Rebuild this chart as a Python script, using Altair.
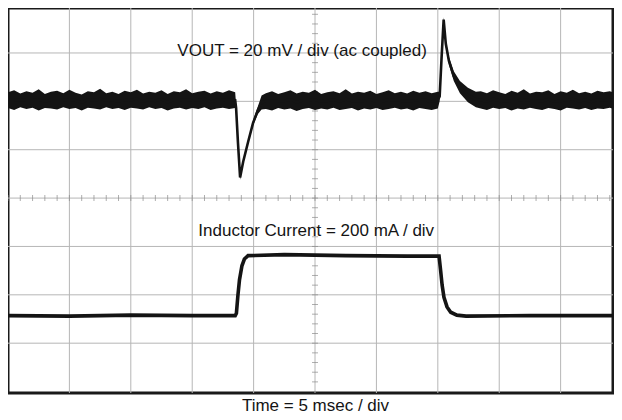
import altair as alt
import pandas as pd

# ---- VOUT trace (divisions): time, upper / lower envelope of the noisy trace
seg_a_t = [round(0.1 * k, 2) for k in range(0, 38)]
seg_a_hi = [2.19, 2.23, 2.16, 2.21, 2.18, 2.25, 2.15, 2.20, 2.22, 2.17,
            2.24, 2.18, 2.14, 2.21, 2.19, 2.26, 2.17, 2.20, 2.15, 2.22,
            2.19, 2.24, 2.16, 2.20, 2.18, 2.23, 2.15, 2.21, 2.19, 2.25,
            2.17, 2.20, 2.22, 2.16, 2.21, 2.18, 2.23, 2.19]
seg_a_lo = [1.86, 1.82, 1.88, 1.84, 1.87, 1.81, 1.86, 1.85, 1.83, 1.88,
            1.84, 1.86, 1.81, 1.87, 1.85, 1.83, 1.88, 1.84, 1.86, 1.82,
            1.87, 1.85, 1.83, 1.88, 1.84, 1.86, 1.81, 1.85, 1.87, 1.83,
            1.86, 1.84, 1.88, 1.82, 1.85, 1.87, 1.84, 1.86]
# undershoot at load step
dip_t = [3.715, 3.745, 3.78, 3.83, 3.91, 3.99, 4.07, 4.13]
dip_hi = [1.92, 1.20, 0.47, 0.79, 1.20, 1.60, 1.90, 2.12]
dip_lo = [1.80, 1.10, 0.38, 0.71, 1.12, 1.50, 1.74, 1.83]
seg_b_t = [round(4.2 + 0.1 * k, 2) for k in range(0, 29)]
seg_b_hi = [2.17, 2.21, 2.15, 2.19, 2.23, 2.16, 2.20, 2.18, 2.24, 2.15,
            2.19, 2.21, 2.17, 2.25, 2.16, 2.20, 2.18, 2.22, 2.15, 2.19,
            2.23, 2.17, 2.20, 2.16, 2.22, 2.18, 2.21, 2.17, 2.20]
seg_b_lo = [1.84, 1.81, 1.86, 1.83, 1.85, 1.80, 1.84, 1.86, 1.82, 1.85,
            1.83, 1.87, 1.82, 1.84, 1.86, 1.81, 1.85, 1.83, 1.86, 1.82,
            1.84, 1.87, 1.83, 1.85, 1.81, 1.86, 1.84, 1.82, 1.85]
# overshoot at load release
peak_t = [7.03, 7.06, 7.095, 7.13, 7.18, 7.26, 7.36, 7.49, 7.62]
peak_hi = [2.20, 2.95, 3.74, 3.26, 2.92, 2.62, 2.42, 2.28, 2.20]
peak_lo = [2.00, 2.80, 3.64, 3.12, 2.76, 2.42, 2.17, 1.98, 1.88]
seg_c_t = [round(7.7 + 0.1 * k, 2) for k in range(0, 24)]
seg_c_hi = [2.21, 2.17, 2.23, 2.19, 2.15, 2.22, 2.18, 2.25, 2.16, 2.20,
            2.19, 2.23, 2.15, 2.21, 2.18, 2.24, 2.17, 2.20, 2.16, 2.22,
            2.19, 2.21, 2.17, 2.20]
seg_c_lo = [1.85, 1.82, 1.87, 1.84, 1.86, 1.81, 1.85, 1.83, 1.87, 1.84,
            1.82, 1.86, 1.84, 1.81, 1.87, 1.85, 1.83, 1.86, 1.82, 1.85,
            1.84, 1.87, 1.83, 1.85]

vout_t = seg_a_t + dip_t + seg_b_t + peak_t + seg_c_t
vout_hi = seg_a_hi + dip_hi + seg_b_hi + peak_hi + seg_c_hi
vout_lo = seg_a_lo + dip_lo + seg_b_lo + peak_lo + seg_c_lo

# ---- Inductor current trace (divisions)
il_t = [0.00, 1.00, 2.00, 3.00, 3.70, 3.72, 3.745, 3.77, 3.81, 3.85, 3.91,
        4.50, 5.50, 6.50, 7.02, 7.045, 7.07, 7.10, 7.15, 7.21, 7.31, 7.46,
        8.50, 10.00]
il_y = [-2.43, -2.44, -2.42, -2.43, -2.43, -2.38, -2.00, -1.69, -1.40, -1.26, -1.19,
        -1.17, -1.19, -1.20, -1.20, -1.49, -1.80, -2.05, -2.25, -2.36, -2.42, -2.44,
        -2.43, -2.43]

# ---- graticule
grid_x = [1, 2, 3, 4, 5, 6, 7, 8, 9]
grid_y = [-3, -2, -1, 0, 1, 2, 3]
minor_x = [round(0.2 * k, 2) for k in range(0, 51)]
minor_y = [round(-4.0 + 0.2 * k, 2) for k in range(0, 40)]

# ---- labels
label_text = ["VOUT = 20 mV / div (ac coupled)", "Inductor Current = 200 mA / div"]
label_t = [4.79, 5.02]
label_y = [3.04, -0.68]
x_title = "Time = 5 msec / div"

FONT = "Liberation Sans"
INK = "#141414"
GRID = "#b6b6b6"

xs = alt.Scale(domain=[0, 9.853], nice=False, zero=False, clamp=False)
ys = alt.Scale(domain=[-4.03, 3.93], nice=False, zero=False)

vdf = pd.DataFrame({"t": vout_t, "hi": vout_hi, "lo": vout_lo})
vdf["mid"] = (vdf["hi"] + vdf["lo"]) / 2
idf = pd.DataFrame({"t": il_t, "y": il_y})
gxdf = pd.DataFrame({"t": grid_x})
gydf = pd.DataFrame({"y": grid_y})
mxdf = pd.DataFrame({"t": minor_x, "y": [0.0] * len(minor_x)})
mydf = pd.DataFrame({"t": [5.0] * len(minor_y), "y": minor_y})
ldf = pd.DataFrame({"t": label_t, "y": label_y, "text": label_text})

X = lambda f: alt.X(f, scale=xs)
Y = lambda f: alt.Y(f, scale=ys, axis=None)

grid_v = alt.Chart(gxdf).mark_rule(color=GRID, strokeWidth=1).encode(
    x=alt.X("t:Q", scale=xs, axis=alt.Axis(
        grid=False, labels=False, ticks=False, domain=False,
        title=x_title, titleFont=FONT, titleFontSize=17, titleFontWeight="normal",
        titleColor=INK, titleBaseline="alphabetic", titlePadding=17, titleX=307)),
)
grid_h = alt.Chart(gydf).mark_rule(color=GRID, strokeWidth=1).encode(y=Y("y:Q"))

band = alt.Chart(vdf).mark_area(color=INK, opacity=1, interpolate="linear", clip=True).encode(
    x=X("t:Q"), y=Y("lo:Q"), y2="hi:Q")

vline = alt.Chart(vdf).mark_line(color=INK, strokeWidth=2.6, clip=True).encode(
    x=X("t:Q"), y=Y("mid:Q"))

iline = alt.Chart(idf).mark_line(color=INK, strokeWidth=3.6, clip=True).encode(
    x=X("t:Q"), y=Y("y:Q"))

ticks_h = alt.Chart(mxdf).mark_tick(color="#8c8c8c", orient="vertical", size=6, thickness=1,
                                    clip=True).encode(x=X("t:Q"), y=Y("y:Q"))
ticks_v = alt.Chart(mydf).mark_tick(color="#8c8c8c", orient="horizontal", size=6, thickness=1,
                                    clip=True).encode(x=X("t:Q"), y=Y("y:Q"))

labels = alt.Chart(ldf).mark_text(font=FONT, fontSize=17, color=INK, align="center",
                                  baseline="middle").encode(
    x=X("t:Q"), y=Y("y:Q"), text="text:N")

chart = alt.layer(grid_v, grid_h, ticks_h, ticks_v, band, vline, iline, labels).properties(
    width=605, height=385,
    autosize=alt.AutoSizeParams(type="none"),
    padding={"left": 0, "top": 0, "right": 1, "bottom": 21},
    background="white",
).configure_view(stroke="#1a1a1a", strokeWidth=3)

chart.save("out.html", embed_options={"renderer": "svg", "actions": False})
